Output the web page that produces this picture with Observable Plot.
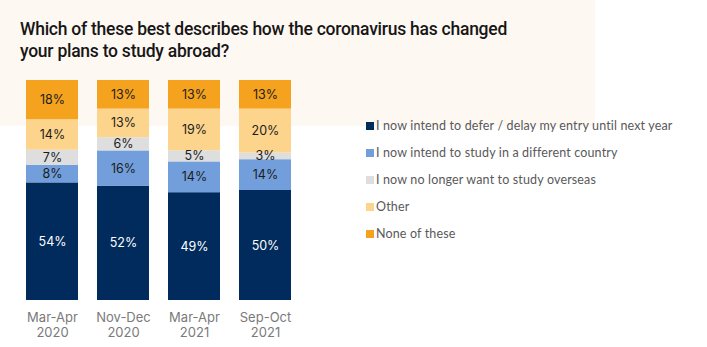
<!DOCTYPE html>
<html>
<head>
<meta charset="utf-8">
<script src="https://cdn.jsdelivr.net/npm/d3@7"></script>
<script src="https://cdn.jsdelivr.net/npm/@observablehq/plot@0.6"></script>
<style>
  html, body { margin: 0; padding: 0; background: #ffffff; }
  #wrap { position: relative; width: 707px; height: 347px; overflow: hidden; background: #ffffff; }
  #panel { position: absolute; left: 0; top: 0; width: 595px; height: 126px; background: #fef8f3; }
  #title { position: absolute; left: 20px; top: 18px; font-family: Roboto, "Noto Sans", sans-serif; font-weight: 500; font-size: 17.5px; line-height: 22px; color: #161616; letter-spacing: -0.25px; }
  #chart { position: absolute; left: 0; top: 0; }
  #legend { position: absolute; left: 366px; top: 112px; font-family: Lato, "Noto Sans", sans-serif; font-size: 12.5px; letter-spacing: 0.15px; color: #595959; }
  .item { display: flex; align-items: center; height: 27px; }
  .sw { width: 8px; height: 8px; margin-right: 2px; flex: none; }
</style>
</head>
<body>
<div id="wrap">
  <div id="panel"></div>
  <div id="title">Which of these best describes how the coronavirus has changed<br>your plans to study abroad?</div>
  <div id="chart"></div>
  <div id="legend"></div>
</div>
<script>
const periods = ["Mar-Apr\n2020", "Nov-Dec\n2020", "Mar-Apr\n2021", "Sep-Oct\n2021"];
const seriesNames = [
  "I now intend to defer / delay my entry until next year",
  "I now intend to study in a different country",
  "I now no longer want to study overseas",
  "Other",
  "None of these"
];
const colors = ["#002b5c", "#729fdb", "#dedede", "#fcd48c", "#f5a31f"];
const deferValues = [54, 52, 49, 50];
const countryValues = [8, 16, 14, 14];
const noLongerValues = [7, 6, 5, 3];
const otherValues = [14, 13, 19, 20];
const noneValues = [18, 13, 13, 13];

const seriesValues = [deferValues, countryValues, noLongerValues, otherValues, noneValues];
const data = [];
seriesNames.forEach((s, si) => {
  periods.forEach((p, pi) => {
    data.push({period: p, series: s, value: seriesValues[si][pi], dark: si === 0});
  });
});

const stackOpts = {x: "period", y: "value", z: "series", offset: "normalize"};

const chart = Plot.plot({
  width: 310,
  height: 347,
  marginLeft: 16.5,
  marginRight: 9.5,
  marginTop: 80,
  marginBottom: 47,
  style: {background: "transparent", overflow: "visible"},
  x: {domain: periods, paddingInner: 0.268, paddingOuter: 0.134, label: null},
  y: {domain: [0, 1], axis: null},
  color: {domain: seriesNames, range: colors},
  marks: [
    Plot.barY(data, Plot.stackY({...stackOpts, fill: "series"})),
    Plot.text(data, Plot.stackY({
      ...stackOpts,
      text: d => d.value + "%",
      fill: d => d.dark ? "#ffffff" : "#1c1c1c",
      fontSize: 12.5,
      fontFamily: "Inter, 'Noto Sans', sans-serif"
    })),
    Plot.axisX({
      tickSize: 0,
      tickPadding: 11,
      fontSize: 13,
      lineHeight: 1.15,
      fill: "#7a7a7a",
      fontFamily: "Inter, 'Noto Sans', sans-serif",
      label: null
    })
  ]
});
document.getElementById("chart").appendChild(chart);

const legend = document.getElementById("legend");
seriesNames.forEach((s, i) => {
  const it = document.createElement("div");
  it.className = "item";
  const sw = document.createElement("span");
  sw.className = "sw";
  sw.style.background = colors[i];
  const t = document.createElement("span");
  t.textContent = s;
  it.appendChild(sw);
  it.appendChild(t);
  legend.appendChild(it);
});
</script>
</body>
</html>
